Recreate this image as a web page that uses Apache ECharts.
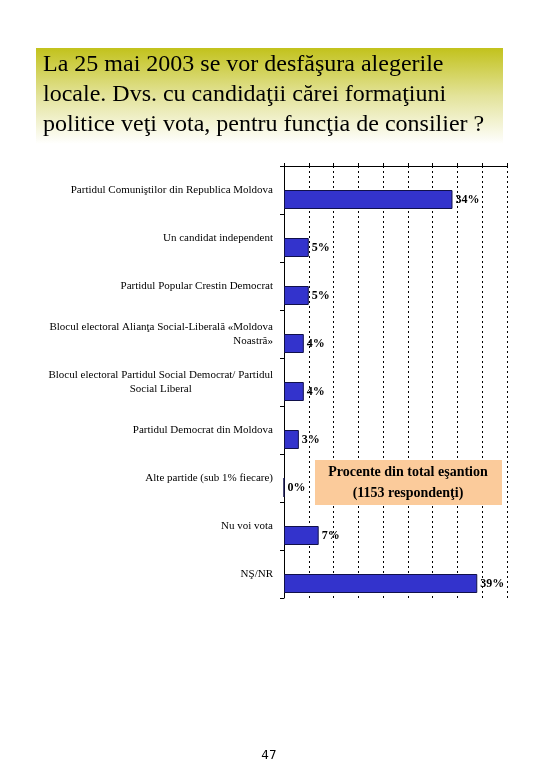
<!DOCTYPE html>
<html>
<head>
<meta charset="utf-8">
<title>Alegeri locale 2003</title>
<script src="https://cdn.jsdelivr.net/npm/echarts/dist/echarts.min.js"></script>
<style>
  html, body { margin: 0; padding: 0; background: #fff; }
  #chart { width: 540px; height: 780px; }
</style>
</head>
<body>
<div id="chart"></div>
<script>
// date (procente)
const categories = [
  'Partidul Comuniştilor din Republica Moldova',
  'Un candidat independent',
  'Partidul Popular Crestin Democrat',
  'Blocul electoral Alianţa Social-Liberală «Moldova\nNoastră»',
  'Blocul electoral Partidul Social Democrat/ Partidul\n{c|Social Liberal}',
  'Partidul Democrat din Moldova',
  'Alte partide (sub 1% fiecare)',
  'Nu voi vota',
  'NŞ/NR'
];
const values = [34, 5, 5, 4, 4, 3, 0, 7, 39];

const titleLines = [
  'La 25 mai 2003 se vor desfăşura alegerile',
  'locale. Dvs. cu candidaţii cărei formaţiuni',
  'politice veţi vota, pentru funcţia de consilier ?'
];
const noteLines = ['Procente din total eşantion', '(1153 respondenţi)'];
const pageNo = '47';

const serif = '"Liberation Serif", "Times New Roman", serif';
const chart = echarts.init(document.getElementById('chart'));

const option = {
  backgroundColor: '#fff',
  animation: false,
  grid: {
    left: 284, right: 33, top: 166, bottom: 182,
    containLabel: false, outerBoundsMode: 'none'
  },
  xAxis: {
    type: 'value',
    position: 'top',
    min: 0, max: 45, interval: 5,
    axisLabel: { show: false },
    axisLine: { show: true, lineStyle: { color: '#000', width: 1 } },
    axisTick: { show: true, length: 3, lineStyle: { color: '#000' } },
    splitLine: { show: true, lineStyle: { color: '#000', type: [2, 3], width: 1 } }
  },
  yAxis: {
    type: 'category',
    inverse: true,
    data: categories,
    axisLine: { show: true, lineStyle: { color: '#000', width: 1 } },
    axisTick: { show: true, interval: 0, length: 4, lineStyle: { color: '#000' } },
    axisLabel: {
      interval: 0,
      margin: 11,
      fontFamily: serif,
      fontSize: 11,
      lineHeight: 14,
      color: '#000',
      rich: { c: { align: 'center', fontFamily: serif, fontSize: 11, color: '#000' } }
    }
  },
  series: [
    {
      // bara goala, doar ca bara reala sa stea in jumatatea de jos
      type: 'bar',
      data: values.map(() => 0),
      barWidth: 19,
      silent: true,
      itemStyle: { color: 'transparent', borderWidth: 0 }
    },
    {
      type: 'bar',
      data: values,
      barWidth: 19,
      barGap: '0%',
      itemStyle: { color: '#3333CC', borderColor: '#10104a', borderWidth: 1 },
      label: {
        show: true,
        position: 'right',
        distance: 3,
        formatter: '{c}%',
        fontFamily: serif,
        fontSize: 12,
        fontWeight: 'bold',
        color: '#000'
      }
    }
  ],
  graphic: [
    {
      type: 'rect',
      shape: { x: 36, y: 48, width: 467, height: 96 },
      style: {
        fill: {
          type: 'linear', x: 0, y: 0, x2: 0, y2: 1,
          colorStops: [
            { offset: 0, color: '#c2c21c' },
            { offset: 0.5, color: '#e3e39a' },
            { offset: 1, color: '#ffffff' }
          ]
        }
      },
      z: 0
    },
    {
      type: 'text',
      left: 43, top: 50,
      style: {
        text: titleLines.join('\n'),
        font: '24px ' + serif,
        lineHeight: 30,
        fill: '#000'
      },
      z: 1
    },
    {
      type: 'rect',
      shape: { x: 315, y: 460, width: 187, height: 45 },
      style: { fill: '#fbcb9b' },
      z: 10
    },
    {
      type: 'text',
      x: 408, y: 483,
      style: {
        text: noteLines.join('\n'),
        font: 'bold 14px ' + serif,
        lineHeight: 21,
        align: 'center',
        verticalAlign: 'middle',
        fill: '#000'
      },
      z: 11
    },
    {
      type: 'text',
      x: 269, y: 756,
      style: {
        text: pageNo,
        font: '12px "DejaVu Sans", sans-serif',
        align: 'center',
        verticalAlign: 'middle',
        fill: '#000'
      }
    }
  ]
};

chart.setOption(option);
</script>
</body>
</html>
